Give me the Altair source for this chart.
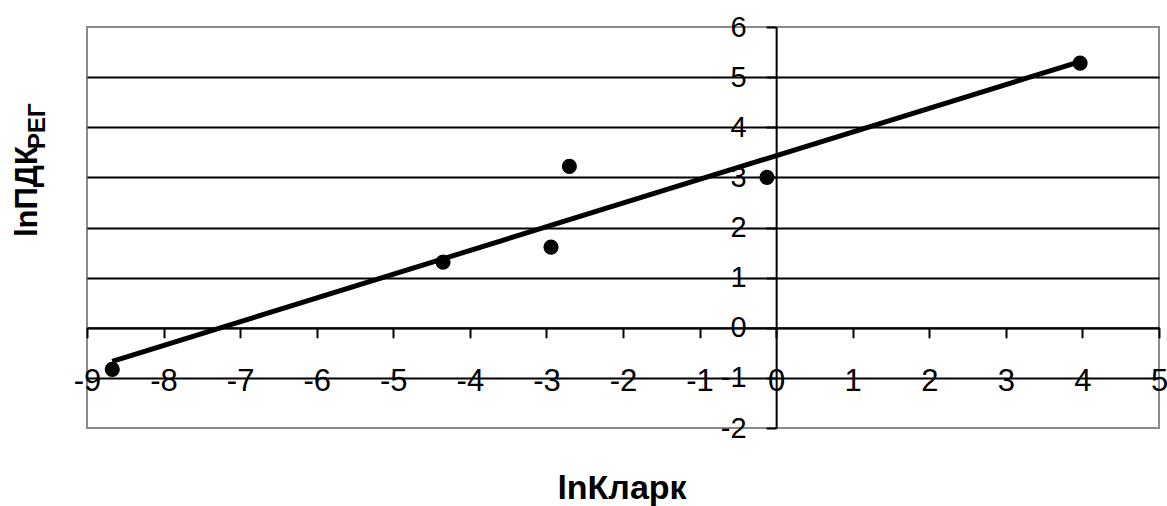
import altair as alt
import pandas as pd

# Observations: ln of Clarke value vs ln of regional MPC
ln_clark = [-8.67, -4.35, -2.94, -2.70, -0.12, 3.97]
ln_pdk = [-0.83, 1.31, 1.61, 3.22, 3.00, 5.28]

x_ticks = list(range(-9, 6))
y_ticks = list(range(-2, 7))
x_min, x_max = -9, 5
y_min, y_max = -2, 6

W, H = 1072, 401
FONT = "Liberation Sans"

df = pd.DataFrame({"x": ln_clark, "y": ln_pdk})

# axes cross at the origin
x_axis_offset = -H * (0 - y_min) / (y_max - y_min)
y_axis_offset = -W * (0 - x_min) / (x_max - x_min)

# plain integers with an ASCII hyphen for negatives
int_label = "'' + datum.value"

x_enc = alt.X(
    "x:Q",
    scale=alt.Scale(domain=[x_min, x_max], nice=False, zero=False),
    axis=alt.Axis(
        values=x_ticks, offset=x_axis_offset, title=None, grid=False,
        ticks=True, tickSize=10, tickWidth=2, tickColor="black",
        domainColor="black", domainWidth=2,
        labelExpr=int_label,
        labelFontSize=31, labelFont=FONT, labelColor="black",
        labelPadding=44, labelBaseline="middle",
        labelFlush=False, labelOverlap=False,
    ),
)
y_enc = alt.Y(
    "y:Q",
    scale=alt.Scale(domain=[y_min, y_max], nice=False, zero=False),
    axis=alt.Axis(
        values=y_ticks, offset=y_axis_offset, title=None,
        grid=True, gridColor="black", gridWidth=1.8,
        gridOpacity={"condition": {"test": "datum.value == 6 || datum.value == -2", "value": 0}, "value": 1},
        ticks=True, tickSize=10, tickWidth=2, tickColor="black",
        domainColor="black", domainWidth=2,
        labelExpr=int_label, labelAlign="right",
        labelFontSize=29, labelFont=FONT, labelColor="black",
        labelPadding=20, labelFlush=False, labelOverlap=False,
    ),
)

base = alt.Chart(df)

trend = base.transform_regression("x", "y").mark_line(
    color="black", strokeWidth=5
).encode(x=x_enc, y=y_enc)

points = base.mark_circle(color="black", opacity=1, size=230).encode(x="x:Q", y="y:Q")

label_src = alt.Chart(pd.DataFrame({"k": [0]}))

x_title = label_src.mark_text(
    text="lnКларк", font=FONT, fontWeight="bold", fontSize=34,
    align="center", baseline="alphabetic", color="black",
).encode(x=alt.value(535), y=alt.value(472))

y_title_main = label_src.mark_text(
    text="lnПДК", font=FONT, fontWeight="bold", fontSize=31, angle=270,
    align="left", baseline="alphabetic", color="black",
).encode(x=alt.value(-50), y=alt.value(210))

y_title_sub = label_src.mark_text(
    text="РЕГ", font=FONT, fontWeight="bold", fontSize=24, angle=270,
    align="left", baseline="alphabetic", color="black",
).encode(x=alt.value(-42), y=alt.value(122))

chart = (
    alt.layer(trend, points, x_title, y_title_main, y_title_sub)
    .properties(
        width=W, height=H,
        autosize=alt.AutoSizeParams(type="none"),
        padding={"left": 87, "top": 27, "right": 8, "bottom": 78},
        background="white",
    )
    .configure_view(stroke="#8a8a8a", strokeWidth=2)
)

chart.save("out.html", embed_options={"renderer": "svg", "actions": False})
